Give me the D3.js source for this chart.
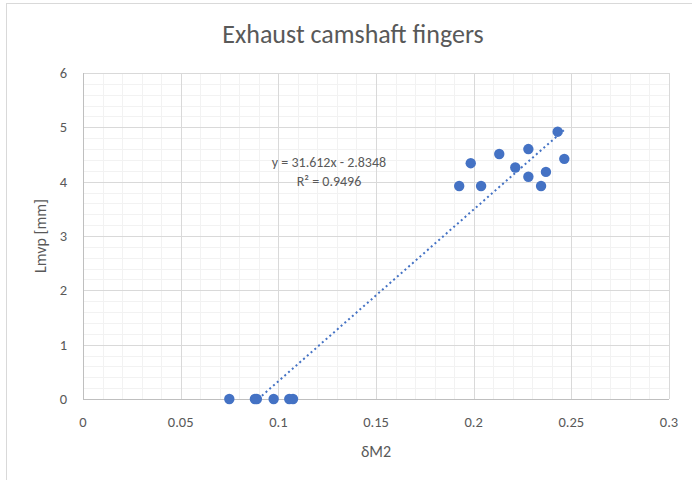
<!DOCTYPE html>
<html><head><meta charset="utf-8">
<script src="https://cdn.jsdelivr.net/npm/d3@7"></script>
<style>body{margin:0;background:#fff}svg{display:block}</style>
</head><body>
<script>
const titleText = "Exhaust camshaft fingers";
const xLabel = "δM2";
const yLabel = "Lmvp [mm]";
const xValues = [0.0749, 0.0880, 0.0890, 0.0976, 0.1056, 0.1075,
  0.1926, 0.1985, 0.2038, 0.2131, 0.2213, 0.2280, 0.2280, 0.2345, 0.2370, 0.2430, 0.2464];
const yValues = [0, 0, 0, 0, 0, 0,
  3.92, 4.34, 3.92, 4.51, 4.26, 4.60, 4.09, 3.92, 4.18, 4.92, 4.42];
const xTicks = [0, 0.05, 0.1, 0.15, 0.2, 0.25, 0.3];
const yTicks = [0, 1, 2, 3, 4, 5, 6];
const slope = 31.612, intercept = -2.8348;
const eqLines = ["y = 31.612x - 2.8348", "R² = 0.9496"];

const W = 692, H = 480;
const svg = d3.select("body").append("svg").attr("width", W).attr("height", H);
const font = "Calibri, Carlito, 'Liberation Sans', Arial, sans-serif";

svg.append("rect").attr("x", 6.5).attr("y", 3.5).attr("width", W + 10).attr("height", H + 10)
  .attr("fill", "#fff").attr("stroke", "#d9d9d9");

const x = d3.scaleLinear().domain([0, 0.3]).range([83, 669]);
const y = d3.scaleLinear().domain([0, 6]).range([399, 73]);

// minor grid
const g = svg.append("g");
g.selectAll(".mx").data(d3.range(0, 31).map(i => i * 0.01)).enter().append("line")
  .attr("x1", d => Math.round(x(d)) + 0.5).attr("x2", d => Math.round(x(d)) + 0.5)
  .attr("y1", y(6)).attr("y2", y(0)).attr("stroke", "#f2f2f2");
g.selectAll(".my").data(d3.range(0, 31).map(i => i * 0.2)).enter().append("line")
  .attr("y1", d => Math.round(y(d)) + 0.5).attr("y2", d => Math.round(y(d)) + 0.5)
  .attr("x1", x(0)).attr("x2", x(0.3)).attr("stroke", "#f2f2f2");
// major grid
g.selectAll(".Mx").data(xTicks).enter().append("line")
  .attr("x1", d => Math.round(x(d)) + 0.5).attr("x2", d => Math.round(x(d)) + 0.5)
  .attr("y1", y(6)).attr("y2", y(0)).attr("stroke", "#d9d9d9");
g.selectAll(".My").data(yTicks).enter().append("line")
  .attr("y1", d => Math.round(y(d)) + 0.5).attr("y2", d => Math.round(y(d)) + 0.5)
  .attr("x1", x(0)).attr("x2", x(0.3)).attr("stroke", "#d9d9d9");
// axis lines
svg.append("line").attr("x1", x(0)).attr("x2", x(0.3))
  .attr("y1", Math.round(y(0)) + 0.5).attr("y2", Math.round(y(0)) + 0.5).attr("stroke", "#bfbfbf");
svg.append("line").attr("y1", y(0)).attr("y2", y(6))
  .attr("x1", Math.round(x(0)) + 0.5).attr("x2", Math.round(x(0)) + 0.5).attr("stroke", "#bfbfbf");

// tick labels
svg.selectAll(".xt").data(xTicks).enter().append("text")
  .attr("x", d => x(d)).attr("y", 427).attr("text-anchor", "middle")
  .attr("font-family", font).attr("font-size", 14.5).attr("fill", "#595959")
  .text(d => d3.format("")(d));
svg.selectAll(".yt").data(yTicks).enter().append("text")
  .attr("x", 67).attr("y", d => y(d) + 5).attr("text-anchor", "end")
  .attr("font-family", font).attr("font-size", 14.5).attr("fill", "#595959")
  .text(d => d);

// title
svg.append("text").attr("x", 353).attr("y", 43).attr("text-anchor", "middle")
  .attr("font-family", font).attr("font-size", 26).attr("fill", "#595959").text(titleText);
// axis titles
svg.append("text").attr("x", x(0.15)).attr("y", 457).attr("text-anchor", "middle")
  .attr("font-family", font).attr("font-size", 16).attr("fill", "#595959").text(xLabel);
svg.append("text").attr("transform", `translate(46,${(y(0) + y(6)) / 2}) rotate(-90)`)
  .attr("text-anchor", "middle")
  .attr("font-family", font).attr("font-size", 16).attr("fill", "#595959").text(yLabel);

// points
const data = xValues.map((v, i) => ({x: v, y: yValues[i]}));
svg.append("g").selectAll("circle").data(data).enter().append("circle")
  .attr("cx", d => x(d.x)).attr("cy", d => y(d.y)).attr("r", 5.2).attr("fill", "#4472c4");

// trendline
const xmin = d3.min(xValues), xmax = d3.max(xValues);
const x0 = Math.max(xmin, -intercept / slope);
svg.append("line")
  .attr("x1", x(x0)).attr("y1", y(slope * x0 + intercept))
  .attr("x2", x(xmax)).attr("y2", y(slope * xmax + intercept))
  .attr("stroke", "#4472c4").attr("stroke-width", 2).attr("stroke-dasharray", "2,3");

// equation
svg.selectAll(".eq").data(eqLines).enter().append("text")
  .attr("x", 329).attr("y", (d, i) => 167 + i * 19).attr("text-anchor", "middle")
  .attr("font-family", font).attr("font-size", 14).attr("fill", "#595959").text(d => d);
</script>
</body></html>
